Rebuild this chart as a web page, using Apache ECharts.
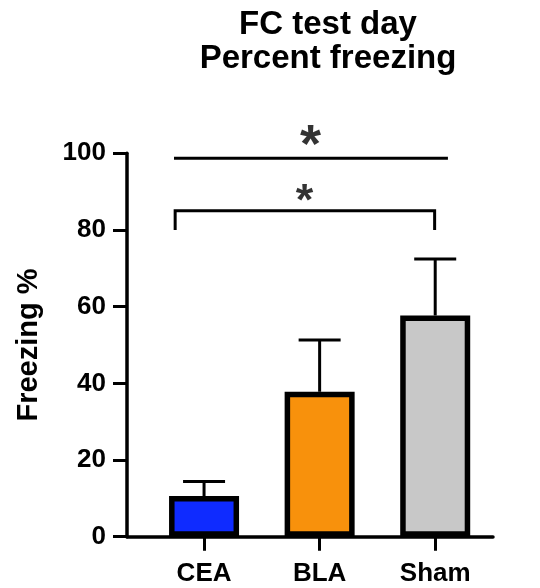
<!DOCTYPE html>
<html>
<head>
<meta charset="utf-8">
<script src="https://cdn.jsdelivr.net/npm/echarts@6/dist/echarts.min.js"></script>
<style>html,body{margin:0;padding:0;background:#fff}#c{width:540px;height:588px}</style>
</head>
<body>
<div id="c"></div>
<script>
// ---- data ----
const categories = ['CEA', 'BLA', 'Sham'];
const categoryX = [1, 2, 3];
const means = [10.6, 37.8, 57.7];
const errors = [3.8, 13.5, 14.7];
const barColors = ['#0f2bff', '#f8910c', '#c8c8c8'];
const yTicks = [0, 20, 40, 60, 80, 100];
// significance annotations (data units)
const bracketTop = [[0.74, 98.7], [3.11, 98.7]];
const bracketLow = [[0.75, 80], [0.75, 85], [2.995, 85], [2.995, 80]];
const starsTop = [[1.92, 104.6]];
const starsLow = [[1.87, 89.8]];

const FONT = '"Liberation Sans", Arial, sans-serif';
const chart = echarts.init(document.getElementById('c'), null, {renderer: 'canvas'});

const barData = means.map((m, i) => ({value: [categoryX[i], m], itemStyle: {color: barColors[i]}}));
const errData = means.map((m, i) => [categoryX[i], m, errors[i]]);

chart.setOption({
  animation: false,
  backgroundColor: '#fff',
  title: {
    text: 'FC test day\nPercent freezing',
    left: 323, top: 3, textAlign: 'center',
    textStyle: {fontFamily: FONT, fontWeight: 'bold', fontSize: 33, lineHeight: 34, color: '#000'}
  },
  grid: {left: 127, right: 47, top: 153.3, bottom: 51.3, containLabel: false},
  xAxis: {
    type: 'value', min: 1/3, max: 3.5,
    splitLine: {show: false},
    axisLine: {show: true, lineStyle: {color: '#000', width: 3.5}},
    axisTick: {show: true, customValues: categoryX, length: 14, lineStyle: {color: '#000', width: 3}},
    axisLabel: {
      show: true, customValues: categoryX, margin: 24,
      formatter: v => categories[categoryX.indexOf(Math.round(v))] || '',
      fontFamily: FONT, fontWeight: 'bold', fontSize: 26, color: '#000'
    }
  },
  yAxis: {
    type: 'value', min: yTicks[0], max: yTicks[yTicks.length - 1], interval: 20,
    name: 'Freezing %', nameLocation: 'middle', nameRotate: 90, nameGap: 84,
    nameTextStyle: {fontFamily: FONT, fontWeight: 'bold', fontSize: 29, color: '#000'},
    splitLine: {show: false},
    axisLine: {show: true, lineStyle: {color: '#000', width: 3.5}},
    axisTick: {show: true, length: 14, lineStyle: {color: '#000', width: 3}},
    axisLabel: {margin: 21, fontFamily: FONT, fontWeight: 'bold', fontSize: 26, color: '#000'}
  },
  series: [
    {
      type: 'custom', z: 2, clip: false,
      data: errData,
      renderItem: function (params, api) {
        const x = api.value(0), y = api.value(1), e = api.value(2);
        const p0 = api.coord([x, y]);
        const p1 = api.coord([x, y + e]);
        return {type: 'group', children: [
          {type: 'line', shape: {x1: p0[0], y1: p0[1], x2: p1[0], y2: p1[1]}, style: {stroke: '#000', lineWidth: 3}},
          {type: 'line', shape: {x1: p1[0] - 21, y1: p1[1], x2: p1[0] + 21, y2: p1[1]}, style: {stroke: '#000', lineWidth: 3}}
        ]};
      }
    },
    {
      type: 'bar', z: 3, barWidth: 70,
      data: barData,
      itemStyle: {borderColor: '#000', borderWidth: 5.5}
    },
    {
      type: 'line', z: 4, data: bracketTop, showSymbol: false, symbol: 'none', clip: false,
      lineStyle: {color: '#000', width: 3}
    },
    {
      type: 'line', z: 4, data: bracketLow, showSymbol: false, symbol: 'none', clip: false,
      lineStyle: {color: '#000', width: 3, join: 'miter'}
    },
    {
      type: 'scatter', z: 5, data: starsTop, symbolSize: 1, clip: false,
      itemStyle: {color: 'rgba(0,0,0,0)'},
      label: {show: true, position: 'inside', formatter: '*', fontFamily: FONT, fontWeight: 'bold', fontSize: 54, color: '#000', offset: [0, 11]}
    },
    {
      type: 'scatter', z: 5, data: starsLow, symbolSize: 1, clip: false,
      itemStyle: {color: 'rgba(0,0,0,0)'},
      label: {show: true, position: 'inside', formatter: '*', fontFamily: FONT, fontWeight: 'bold', fontSize: 45, color: '#000', offset: [0, 10]}
    }
  ]
});
</script>
</body>
</html>
